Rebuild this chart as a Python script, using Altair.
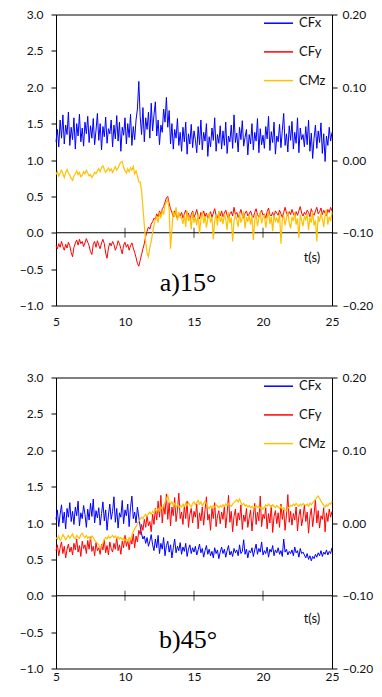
import altair as alt
import pandas as pd
import numpy as np

T_START, T_STEP = 5.0, 0.1

# ---------- panel a) 15 deg ----------
a_cfx = [1.25,1.42,1.18,1.55,1.30,1.62,1.22,1.48,1.35,1.66,1.20,
 1.45,1.28,1.58,1.15,1.50,1.33,1.63,1.25,1.44,1.19,
 1.52,1.36,1.60,1.24,1.47,1.30,1.57,1.21,1.41,1.64,
 1.27,1.50,1.14,1.46,1.32,1.59,1.23,1.43,1.36,1.55,
 1.18,1.48,1.29,1.61,1.26,1.52,1.12,1.45,1.34,1.58,
 1.22,1.50,1.31,1.63,1.20,1.46,1.28,1.55,1.70,2.08,
 1.60,1.35,1.72,1.25,1.58,1.42,1.66,1.30,1.78,1.40,
 1.62,1.80,1.33,1.55,1.21,1.48,1.38,1.70,1.52,1.86,
 1.45,1.68,1.22,1.50,1.15,1.42,1.30,1.57,1.20,1.38,
 1.12,1.45,1.25,1.52,1.08,1.36,1.22,1.49,1.17,1.40,
 1.28,1.10,1.46,1.21,1.55,1.14,1.38,1.26,1.50,1.05,
 1.32,1.18,1.44,1.27,1.58,1.12,1.35,1.23,1.47,1.15,
 1.40,1.20,1.52,1.09,1.33,1.25,1.48,1.16,1.62,1.24,
 1.37,1.11,1.45,1.28,1.54,1.19,1.31,1.42,1.07,1.35,
 1.22,1.50,1.14,1.38,1.26,1.57,1.10,1.43,1.21,1.34,
 1.16,1.46,1.29,1.60,1.13,1.39,1.24,1.52,1.08,1.33,
 1.25,1.49,1.17,1.41,1.64,1.20,1.36,1.11,1.47,1.27,
 1.53,1.15,1.38,1.23,1.58,1.10,1.44,1.28,1.35,1.18,
 1.46,1.21,1.55,1.12,1.37,1.02,1.30,1.48,1.16,1.40,
 1.24,1.51,1.09,1.36,0.98,1.33,1.20,1.45,1.26,1.38]

a_cfy = [-0.18,-0.22,-0.15,-0.20,-0.12,-0.19,-0.24,-0.16,-0.21,-0.13,-0.18,
 -0.27,-0.33,-0.20,-0.14,-0.10,-0.17,-0.09,-0.15,-0.12,-0.19,
 -0.14,-0.08,-0.13,-0.18,-0.26,-0.30,-0.16,-0.12,-0.20,-0.11,
 -0.17,-0.22,-0.14,-0.09,-0.15,-0.28,-0.35,-0.21,-0.14,-0.18,
 -0.12,-0.16,-0.24,-0.19,-0.11,-0.15,-0.22,-0.29,-0.17,-0.13,
 -0.20,-0.16,-0.24,-0.18,-0.14,-0.21,-0.27,-0.34,-0.42,-0.46,
 -0.38,-0.30,-0.22,-0.15,-0.05,0.02,0.08,0.05,0.12,0.15,
 0.20,0.18,0.26,0.22,0.30,0.25,0.33,0.36,0.42,0.48,
 0.50,0.40,0.33,0.28,0.22,0.30,0.25,0.19,0.27,0.23,
 0.28,0.20,0.26,0.31,0.22,0.27,0.18,0.25,0.30,0.21,
 0.26,0.32,0.23,0.19,0.28,0.24,0.30,0.22,0.27,0.20,
 0.25,0.29,0.21,0.27,0.33,0.24,0.20,0.28,0.23,0.30,
 0.22,0.27,0.31,0.24,0.19,0.26,0.29,0.23,0.35,0.25,
 0.28,0.21,0.26,0.32,0.24,0.20,0.27,0.30,0.23,0.26,
 0.30,0.24,0.21,0.28,0.33,0.25,0.22,0.27,0.31,0.24,
 0.26,0.20,0.29,0.34,0.25,0.23,0.28,0.22,0.30,0.27,
 0.24,0.31,0.26,0.21,0.28,0.35,0.27,0.23,0.29,0.25,
 0.32,0.26,0.22,0.29,0.24,0.30,0.36,0.27,0.23,0.28,
 0.25,0.31,0.28,0.22,0.33,0.27,0.24,0.30,0.35,0.26,
 0.29,0.34,0.25,0.31,0.27,0.23,0.32,0.28,0.35,0.30]

a_cmz = [-0.020,-0.016,-0.022,-0.018,-0.014,-0.019,-0.024,-0.017,-0.013,-0.018,-0.021,
 -0.025,-0.028,-0.022,-0.019,-0.015,-0.020,-0.017,-0.023,-0.021,-0.016,
 -0.019,-0.014,-0.018,-0.022,-0.020,-0.024,-0.021,-0.017,-0.019,-0.015,
 -0.012,-0.016,-0.010,-0.008,-0.013,-0.017,-0.014,-0.011,-0.015,-0.012,
 -0.017,-0.013,-0.009,-0.014,-0.011,-0.006,-0.003,-0.002,-0.010,-0.015,
 -0.018,-0.012,-0.016,-0.011,-0.014,-0.009,-0.019,-0.015,-0.022,-0.030,
 -0.030,-0.042,-0.065,-0.090,-0.112,-0.128,-0.133,-0.120,-0.112,-0.100,
 -0.090,-0.082,-0.078,-0.086,-0.072,-0.080,-0.069,-0.075,-0.062,-0.058,
 -0.055,-0.068,-0.122,-0.095,-0.070,-0.078,-0.065,-0.083,-0.072,-0.079,
 -0.080,-0.088,-0.075,-0.092,-0.070,-0.084,-0.078,-0.095,-0.072,-0.086,
 -0.079,-0.090,-0.074,-0.101,-0.082,-0.071,-0.087,-0.077,-0.093,-0.080,
 -0.073,-0.086,-0.078,-0.109,-0.083,-0.075,-0.090,-0.070,-0.085,-0.079,
 -0.088,-0.074,-0.081,-0.096,-0.072,-0.087,-0.079,-0.112,-0.084,-0.076,
 -0.082,-0.092,-0.073,-0.086,-0.080,-0.071,-0.094,-0.078,-0.085,-0.075,
 -0.089,-0.077,-0.110,-0.083,-0.074,-0.091,-0.080,-0.072,-0.087,-0.079,
 -0.076,-0.093,-0.081,-0.070,-0.088,-0.078,-0.098,-0.075,-0.084,-0.080,
 -0.087,-0.073,-0.115,-0.082,-0.076,-0.090,-0.079,-0.071,-0.086,-0.094,
 -0.078,-0.084,-0.072,-0.089,-0.080,-0.107,-0.075,-0.083,-0.091,-0.077,
 -0.082,-0.074,-0.096,-0.079,-0.086,-0.071,-0.090,-0.083,-0.112,-0.077,
 -0.085,-0.073,-0.081,-0.092,-0.076,-0.068,-0.089,-0.078,-0.084,-0.072]

# ---------- panel b) 45 deg ----------
b_cfx = [1.05,1.18,0.95,1.12,1.25,1.00,1.15,0.92,1.20,1.08,1.28,
 1.02,1.16,0.98,1.22,1.10,1.30,0.96,1.14,1.06,1.24,
 1.12,0.94,1.19,1.04,1.27,1.09,1.33,1.00,1.17,1.07,
 1.21,0.97,1.13,1.29,1.03,1.18,0.90,1.11,1.26,1.05,
 1.16,1.36,1.01,1.20,0.93,1.14,1.08,1.31,0.99,1.18,
 1.10,1.26,0.95,1.21,1.37,1.06,1.15,1.00,1.22,1.08,
 0.95,0.85,0.78,0.82,0.72,0.80,0.68,0.75,0.84,0.70,
 0.62,0.78,0.66,0.83,0.58,0.72,0.64,0.80,0.55,0.69,
 0.75,0.60,0.70,0.52,0.66,0.78,0.59,0.68,0.62,0.73,
 0.57,0.67,0.61,0.72,0.54,0.64,0.70,0.58,0.66,0.60,
 0.68,0.56,0.63,0.71,0.59,0.65,0.53,0.62,0.69,0.57,
 0.64,0.55,0.61,0.52,0.66,0.58,0.63,0.51,0.60,0.67,
 0.58,0.64,0.53,0.62,0.69,0.56,0.61,0.54,0.65,0.59,
 0.63,0.55,0.70,0.58,0.61,0.77,0.57,0.64,0.52,0.62,
 0.59,0.66,0.54,0.63,0.71,0.57,0.65,0.60,0.74,0.56,
 0.62,0.58,0.67,0.53,0.64,0.60,0.69,0.55,0.63,0.59,
 0.66,0.57,0.62,0.54,0.78,0.60,0.64,0.56,0.61,0.58,
 0.63,0.55,0.67,0.59,0.62,0.53,0.65,0.58,0.60,0.56,
 0.52,0.58,0.50,0.55,0.48,0.54,0.51,0.57,0.53,0.59,
 0.55,0.62,0.54,0.60,0.57,0.63,0.56,0.61,0.58,0.66]

b_cfy = [0.62,0.70,0.55,0.66,0.74,0.58,0.68,0.52,0.64,0.71,0.60,
 0.67,0.56,0.72,0.63,0.78,0.60,0.69,0.54,0.75,0.65,
 0.70,0.58,0.76,0.64,0.81,0.61,0.68,0.55,0.73,0.62,
 0.66,0.57,0.71,0.63,0.77,0.59,0.69,0.56,0.74,0.65,
 0.60,0.72,0.64,0.80,0.62,0.70,0.57,0.75,0.66,0.83,
 0.68,0.76,0.63,0.79,0.71,0.85,0.66,0.82,0.74,0.90,
 0.84,0.98,0.90,1.05,0.94,1.10,0.96,1.02,0.88,1.12,
 0.98,1.20,1.04,1.30,1.08,1.38,1.00,1.25,1.12,1.40,
 1.05,1.28,0.96,1.22,1.10,1.35,1.02,1.18,1.41,1.06,
 1.15,0.98,1.24,1.06,1.30,0.94,1.12,1.20,1.00,1.16,
 1.08,1.26,0.92,1.14,1.03,1.22,0.97,1.18,1.36,1.04,
 1.12,0.90,1.20,1.06,1.28,0.95,1.10,1.17,0.99,1.15,
 1.05,1.23,0.93,1.13,1.38,1.01,1.16,0.88,1.09,1.19,
 0.96,1.14,1.04,1.25,0.91,1.11,1.02,1.20,0.94,1.07,
 1.18,0.89,1.10,1.27,0.98,1.15,1.03,1.37,0.95,1.12,
 1.06,1.21,0.92,1.13,1.00,1.24,0.87,1.09,1.17,0.99,
 1.14,0.94,1.26,1.05,1.18,0.90,1.11,1.39,1.01,1.16,
 0.97,1.13,1.04,1.22,0.89,1.10,1.19,0.96,1.08,1.25,
 1.02,1.15,0.86,1.09,1.20,0.95,1.12,1.32,1.00,1.17,
 0.93,1.10,1.05,1.21,0.88,1.14,1.02,1.19,1.08,1.16]

b_cmz = [-0.020,-0.022,-0.018,-0.024,-0.021,-0.016,-0.019,-0.023,-0.020,-0.017,-0.021,
 -0.018,-0.015,-0.020,-0.022,-0.017,-0.019,-0.021,-0.016,-0.014,-0.018,
 -0.020,-0.017,-0.021,-0.019,-0.022,-0.018,-0.020,-0.024,-0.026,-0.028,
 -0.030,-0.034,-0.032,-0.027,-0.023,-0.020,-0.022,-0.018,-0.021,-0.019,
 -0.017,-0.020,-0.018,-0.021,-0.019,-0.022,-0.020,-0.023,-0.021,-0.024,
 -0.022,-0.025,-0.020,-0.023,-0.017,-0.012,-0.008,-0.005,-0.001,0.002,
 0.005,0.008,0.006,0.010,0.012,0.009,0.013,0.015,0.012,0.016,
 0.014,0.018,0.016,0.020,0.017,0.022,0.019,0.024,0.028,0.033,
 0.038,0.030,0.026,0.029,0.024,0.027,0.022,0.025,0.021,0.024,
 0.022,0.026,0.023,0.027,0.024,0.028,0.025,0.022,0.027,0.029,
 0.025,0.028,0.031,0.026,0.029,0.024,0.027,0.030,0.026,0.022,
 0.020,0.023,0.021,0.024,0.022,0.025,0.023,0.021,0.024,0.022,
 0.025,0.023,0.026,0.024,0.027,0.025,0.023,0.026,0.028,0.030,
 0.032,0.029,0.033,0.028,0.025,0.027,0.023,0.025,0.022,0.024,
 0.021,0.023,0.020,0.022,0.024,0.021,0.023,0.020,0.022,0.019,
 0.022,0.025,0.023,0.026,0.024,0.022,0.025,0.023,0.021,0.024,
 0.022,0.020,0.023,0.019,0.021,0.018,0.017,0.020,0.022,0.024,
 0.023,0.026,0.024,0.027,0.025,0.023,0.026,0.024,0.027,0.025,
 0.024,0.026,0.023,0.027,0.025,0.028,0.030,0.032,0.035,0.037,
 0.034,0.030,0.027,0.024,0.022,0.025,0.023,0.027,0.026,0.030]

SERIES = ["CFx", "CFy", "CMz"]
COLORS = ["#0000FF", "#FF0000", "#FFC000"]
X_TICKS = [5, 10, 15, 20, 25]
ZERO_TICKS = [10, 15, 20]
LEFT_TICKS = [-1.0, -0.5, 0.0, 0.5, 1.0, 1.5, 2.0, 2.5, 3.0]
RIGHT_TICKS = [-0.2, -0.1, 0.0, 0.1, 0.2]

W, H = 276, 291
FONT = "Lato"


def frame(vals, name):
    assert len(vals) == 201, (name, len(vals))
    t = np.round(T_START + T_STEP * np.arange(len(vals)), 2)
    return pd.DataFrame({"t": t, "value": vals, "series": name})


def panel(cfx, cfy, cmz, label, label_y, ts_y, xpad):
    left_df = pd.concat([frame(cfx, "CFx"), frame(cfy, "CFy")], ignore_index=True)
    right_df = frame(cmz, "CMz")

    color = alt.Color(
        "series:N",
        scale=alt.Scale(domain=SERIES, range=COLORS),
        legend=alt.Legend(
            title=None, orient="none", legendX=207, legendY=-6.8,
            symbolType="stroke", symbolSize=841, symbolStrokeWidth=1.5,
            labelFont=FONT, labelFontSize=13, labelColor="#111",
            rowPadding=5.7, labelOffset=5, padding=0,
        ),
    )
    x = alt.X(
        "t:Q",
        scale=alt.Scale(domain=[5, 25], nice=False, zero=False),
        axis=alt.Axis(values=X_TICKS, ticks=False, tickSize=0, domain=False, grid=False,
                      labelPadding=xpad, labelFlush=False, title=None, format="d"),
    )
    y_left = alt.Y(
        "value:Q",
        scale=alt.Scale(domain=[-1, 3], nice=False, zero=False),
        axis=alt.Axis(values=LEFT_TICKS, format=".1f", grid=False, tickSize=5,
                      domain=False, labelPadding=8, labelOverlap=False,
                      labelFlush=False, title=None),
    )
    y_right = alt.Y(
        "value:Q",
        scale=alt.Scale(domain=[-0.2, 0.2], nice=False, zero=False),
        axis=alt.Axis(values=RIGHT_TICKS, format=".2f", grid=False, tickSize=5,
                      domain=False, labelPadding=5, labelOverlap=False,
                      labelFlush=False, title=None, orient="right"),
    )

    zero = alt.Chart(pd.DataFrame({"value": [0.0]})).mark_rule(
        color="black", strokeWidth=1
    ).encode(y=y_left)
    ticks = alt.Chart(pd.DataFrame({"t": ZERO_TICKS, "value": [0.0] * len(ZERO_TICKS)})).mark_tick(
        orient="vertical", size=10, thickness=1, color="black"
    ).encode(x=x, y=y_left)
    lines_left = alt.Chart(left_df).mark_line(strokeWidth=1).encode(
        x=x, y=y_left, color=color, detail="series:N"
    )
    ts = alt.Chart(pd.DataFrame({"s": ["t(s)"]})).mark_text(
        font=FONT, fontSize=13, color="#111", align="center", baseline="alphabetic"
    ).encode(text="s:N", x=alt.value(256), y=alt.value(ts_y))
    lab = alt.Chart(pd.DataFrame({"s": [label]})).mark_text(
        font="Liberation Serif", fontSize=26, color="black", align="center", baseline="alphabetic"
    ).encode(text="s:N", x=alt.value(132), y=alt.value(label_y))

    left = alt.layer(zero, ticks, lines_left, ts, lab)
    right = alt.Chart(right_df).mark_line(strokeWidth=1.2).encode(
        x=x, y=y_right, color=color
    )
    return alt.layer(left, right).resolve_scale(y="independent").properties(width=W, height=H)


pa = panel(a_cfx, a_cfy, a_cmz, "a)15°", 276, 247, 11)
pb = panel(b_cfx, b_cfy, b_cmz, "b)45°", 270, 245, 3)

chart = alt.vconcat(pa, pb, spacing=41).resolve_scale(color="independent").resolve_legend(
    color="independent"
).properties(
    padding={"left": 10, "top": -1.5, "right": 0, "bottom": 0},
    background="white",
).configure_view(
    stroke="black", strokeWidth=1
).configure_axis(
    labelFont=FONT, labelFontSize=12, labelColor="#111", tickColor="black", tickWidth=1
)

chart.save("out.html", embed_options={"renderer": "svg", "actions": False})
